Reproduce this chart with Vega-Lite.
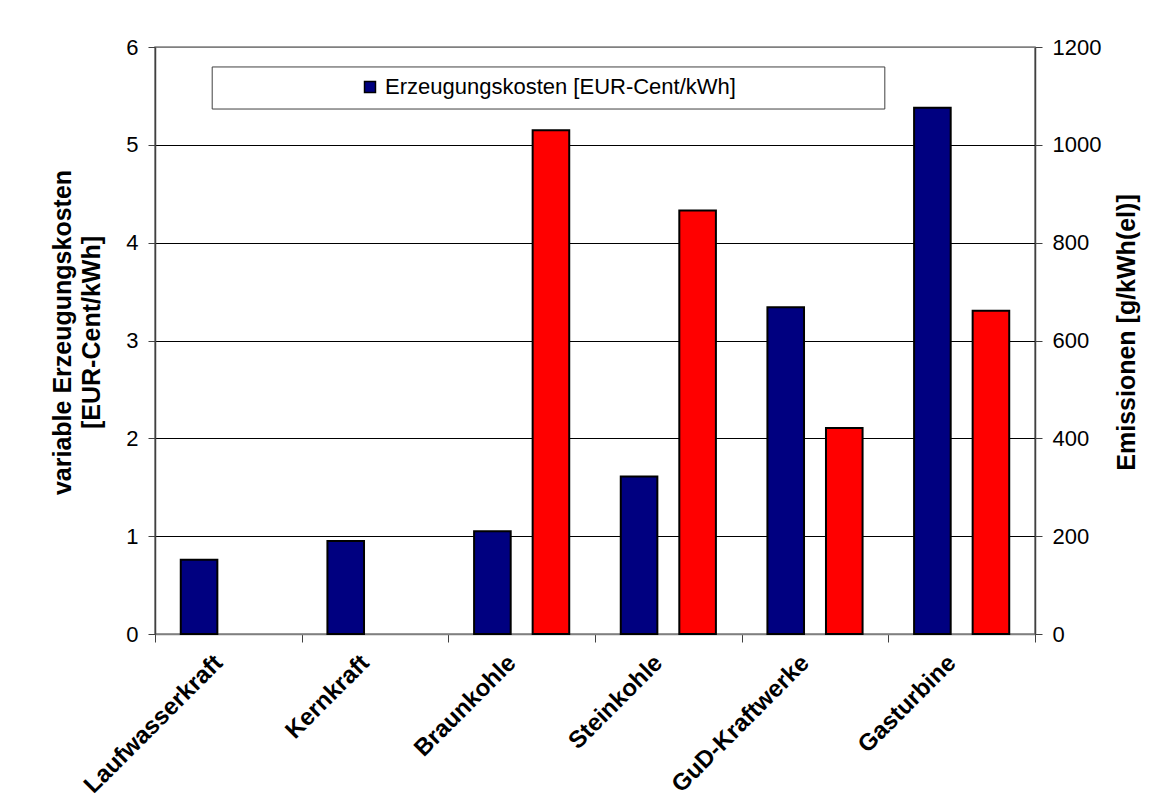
{
  "$schema": "https://vega.github.io/schema/vega-lite/v6.json",
  "width": 880,
  "height": 587,
  "autosize": {"type": "none"},
  "padding": {"left": 155, "top": 47, "right": 126, "bottom": 167},
  "background": "white",
  "config": {
    "font": "Liberation Sans",
    "view": {"stroke": "#808080", "strokeWidth": 1.5},
    "axis": {"labelFont": "Liberation Sans", "titleFont": "Liberation Sans", "labelColor": "black", "titleColor": "black", "tickColor": "#404040", "domainColor": "#404040"}
  },
  "datasets": {
    "bars": [
      {"cat": "Laufwasserkraft", "series": "Erzeugungskosten [EUR-Cent/kWh]", "value": 0.76},
      {"cat": "Kernkraft", "series": "Erzeugungskosten [EUR-Cent/kWh]", "value": 0.95},
      {"cat": "Braunkohle", "series": "Erzeugungskosten [EUR-Cent/kWh]", "value": 1.05},
      {"cat": "Steinkohle", "series": "Erzeugungskosten [EUR-Cent/kWh]", "value": 1.61},
      {"cat": "GuD-Kraftwerke", "series": "Erzeugungskosten [EUR-Cent/kWh]", "value": 3.34},
      {"cat": "Gasturbine", "series": "Erzeugungskosten [EUR-Cent/kWh]", "value": 5.38},
      {"cat": "Braunkohle", "series": "Emissionen [g/kWh(el)]", "value": 1030},
      {"cat": "Steinkohle", "series": "Emissionen [g/kWh(el)]", "value": 866},
      {"cat": "GuD-Kraftwerke", "series": "Emissionen [g/kWh(el)]", "value": 421},
      {"cat": "Gasturbine", "series": "Emissionen [g/kWh(el)]", "value": 661}
    ]
  },
  "layer": [
    {
      "data": {"values": [{}]},
      "mark": {"type": "rect", "fill": "white", "stroke": "#404040", "strokeWidth": 1},
      "encoding": {
        "x": {"datum": 0.39, "type": "quantitative", "scale": {"domain": [0, 6], "nice": false, "zero": false}, "axis": null},
        "x2": {"datum": 4.976},
        "y": {"datum": 5.796, "type": "quantitative", "scale": {"domain": [0, 6], "nice": false}, "axis": null},
        "y2": {"datum": 5.366}
      }
    },
    {
      "data": {"name": "bars"},
      "transform": [{"filter": "datum.series === 'Erzeugungskosten [EUR-Cent/kWh]'"}],
      "mark": {"type": "bar", "stroke": "black", "strokeWidth": 2},
      "encoding": {
        "x": {
          "field": "cat", "type": "nominal", "sort": null,
          "scale": {"domain": ["Laufwasserkraft", "Kernkraft", "Braunkohle", "Steinkohle", "GuD-Kraftwerke", "Gasturbine"], "paddingInner": 0, "paddingOuter": 0},
          "axis": {"title": null, "labelAngle": -45, "labelAlign": "right", "labelBaseline": "middle", "labelFontSize": 24, "labelFontWeight": "bold", "labelPadding": 17, "labelOffset": -10, "tickBand": "extent", "tickSize": 8, "domainColor": "#808080", "domainWidth": 1.5, "labelLimit": 400}
        },
        "xOffset": {"field": "series", "type": "nominal", "scale": {"domain": ["Erzeugungskosten [EUR-Cent/kWh]", "Emissionen [g/kWh(el)]"], "paddingInner": 0.375, "paddingOuter": 0.44}},
        "y": {
          "field": "value", "type": "quantitative",
          "scale": {"domain": [0, 6], "nice": false},
          "axis": {
            "title": ["variable Erzeugungskosten", "[EUR-Cent/kWh]"],
            "titleFontSize": 25, "titleFontWeight": "bold", "titleAngle": 270,
            "titleX": -93, "titleY": 285, "titleAlign": "center", "titleBaseline": "middle", "titleLineHeight": 29,
            "values": [0, 1, 2, 3, 4, 5, 6], "labelFontSize": 22, "labelPadding": 10, "tickSize": 7,
            "grid": true, "gridColor": {"condition": {"test": "datum.value === 6", "value": "#808080"}, "value": "black"}, "gridWidth": 1,
            "domainWidth": 1.5
          }
        },
        "color": {
          "field": "series", "type": "nominal",
          "scale": {"domain": ["Erzeugungskosten [EUR-Cent/kWh]"], "range": ["#000080"]},
          "legend": {"title": null, "orient": "none", "legendX": 204, "legendY": 29, "labelFontSize": 22, "labelFont": "Liberation Sans", "labelColor": "black", "symbolType": "square", "symbolSize": 120, "symbolStrokeColor": "black", "symbolStrokeWidth": 1.5, "labelOffset": 4, "padding": 0, "labelLimit": 600}
        }
      }
    },
    {
      "data": {"name": "bars"},
      "transform": [{"filter": "datum.series === 'Emissionen [g/kWh(el)]'"}],
      "mark": {"type": "bar", "color": "#FF0000", "stroke": "black", "strokeWidth": 2},
      "encoding": {
        "x": {
          "field": "cat", "type": "nominal", "sort": null,
          "scale": {"domain": ["Laufwasserkraft", "Kernkraft", "Braunkohle", "Steinkohle", "GuD-Kraftwerke", "Gasturbine"], "paddingInner": 0, "paddingOuter": 0},
          "axis": null
        },
        "xOffset": {"field": "series", "type": "nominal", "scale": {"domain": ["Erzeugungskosten [EUR-Cent/kWh]", "Emissionen [g/kWh(el)]"], "paddingInner": 0.375, "paddingOuter": 0.44}},
        "y": {
          "field": "value", "type": "quantitative",
          "scale": {"domain": [0, 1200], "nice": false},
          "axis": {
            "orient": "right",
            "title": "Emissionen [g/kWh(el)]",
            "titleFontSize": 25, "titleFontWeight": "bold", "titleAngle": 270,
            "titleX": 91, "titleY": 285, "titleAlign": "center", "titleBaseline": "middle",
            "values": [0, 200, 400, 600, 800, 1000, 1200], "format": "d", "labelFontSize": 22, "labelPadding": 10, "tickSize": 7,
            "grid": false, "domainWidth": 1.5
          }
        }
      }
    }
  ],
  "resolve": {
    "scale": {"x": "independent", "y": "independent", "xOffset": "independent"},
    "axis": {"x": "independent", "y": "independent"}
  }
}
